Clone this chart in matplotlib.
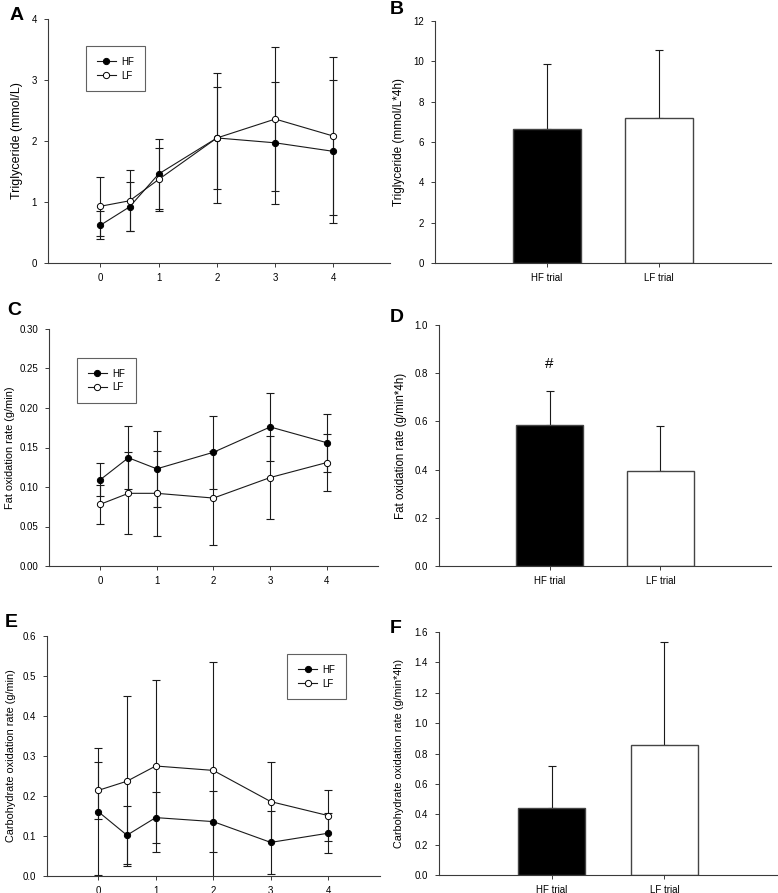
import matplotlib
matplotlib.use("Agg")
import matplotlib.pyplot as plt
import numpy as np

plt.rcParams["font.family"] = ["Liberation Sans", "DejaVu Sans"]

# time points (h)
times = [0, 0.5, 1, 2, 3, 4]
time_ticks = [0, 1, 2, 3, 4]

# A: triglyceride (mmol/L)
tg_hf = [0.62, 0.92, 1.46, 2.05, 1.97, 1.83]
tg_hf_sd = [0.23, 0.40, 0.57, 1.06, 1.00, 1.17]
tg_lf = [0.93, 1.02, 1.37, 2.05, 2.36, 2.08]
tg_lf_sd = [0.48, 0.50, 0.52, 0.84, 1.18, 1.30]

# C: fat oxidation rate (g/min)
fat_hf = [0.109, 0.137, 0.123, 0.144, 0.176, 0.156]
fat_hf_sd = [0.021, 0.040, 0.048, 0.046, 0.043, 0.037]
fat_lf = [0.078, 0.092, 0.092, 0.086, 0.112, 0.131]
fat_lf_sd = [0.025, 0.052, 0.054, 0.060, 0.053, 0.036]

# E: carbohydrate oxidation rate (g/min)
cho_hf = [0.161, 0.102, 0.146, 0.136, 0.084, 0.107]
cho_hf_sd = [0.158, 0.073, 0.063, 0.077, 0.078, 0.050]
cho_lf = [0.214, 0.237, 0.275, 0.264, 0.186, 0.151]
cho_lf_sd = [0.071, 0.213, 0.216, 0.272, 0.099, 0.064]

# B, D, F: area under curve
trials = ["HF trial", "LF trial"]
tg_auc = [6.65, 7.20]
tg_auc_sd = [3.20, 3.38]
fat_auc = [0.584, 0.395]
fat_auc_sd = [0.144, 0.184]
cho_auc = [0.438, 0.857]
cho_auc_sd = [0.277, 0.679]

W, H = 778, 893
spine_col = "#3a3a3a"
line_col = "#1a1a1a"


def px_axes(fig, left, top, right, bottom):
    ax = fig.add_axes([left / W, 1 - bottom / H, (right - left) / W, (bottom - top) / H])
    ax.px_box = (left, right)
    return ax


def style_axes(ax):
    for s in ["top", "right"]:
        ax.spines[s].set_visible(False)
    for s in ["left", "bottom"]:
        ax.spines[s].set_color(spine_col)
        ax.spines[s].set_linewidth(0.8)
    ax.tick_params(axis="both", direction="out", length=3, width=0.7,
                   color=spine_col, labelsize=7)
    ax.tick_params(axis="x", pad=4)
    ax.tick_params(axis="y", pad=5)


def put_ylabel(ax, text, x_px, size):
    left, right = ax.px_box
    ax.set_ylabel(text, fontsize=size)
    ax.yaxis.label.set_verticalalignment("center")
    ax.yaxis.set_label_coords((x_px - left) / (right - left), 0.5)


def line_panel(ax, hf, hf_sd, lf, lf_sd, ylim, yticks, fmt, ylabel, lab_x, lab_size,
               xlim, leg_xy):
    style_axes(ax)
    eb = dict(fmt="none", ecolor=line_col, elinewidth=0.8, capsize=3, capthick=0.8)
    ax.errorbar(times, hf, yerr=hf_sd, zorder=2, **eb)
    ax.errorbar(times, lf, yerr=lf_sd, zorder=2, **eb)
    ax.plot(times, hf, "-o", color=line_col, lw=0.8, ms=4.5, mfc="black",
            mec="black", mew=0.7, label="HF", zorder=3)
    ax.plot(times, lf, "-o", color=line_col, lw=0.8, ms=4.5, mfc="white",
            mec="black", mew=0.7, label="LF", zorder=3)
    ax.set_xlim(*xlim)
    ax.set_ylim(*ylim)
    ax.set_xticks(time_ticks)
    ax.set_yticks(yticks)
    ax.set_yticklabels([fmt.format(v) for v in yticks])
    put_ylabel(ax, ylabel, lab_x, lab_size)
    leg = ax.legend(loc="upper left", bbox_to_anchor=leg_xy, borderaxespad=0,
                    fontsize=7, frameon=True, fancybox=False, handlelength=2.0,
                    handletextpad=0.5, borderpad=1.1, labelspacing=0.4)
    leg.get_frame().set_edgecolor(spine_col)
    leg.get_frame().set_linewidth(0.8)


def bar_panel(ax, vals, sds, ylim, yticks, fmt, ylabel, lab_x, lab_size):
    style_axes(ax)
    x = np.arange(1, len(vals) + 1)
    ax.bar(x, vals, width=0.6, color=["black", "white"], edgecolor="#444444",
           linewidth=1.0, zorder=2)
    ax.errorbar(x, vals, yerr=[np.zeros(len(sds)), sds], fmt="none", ecolor=line_col,
                elinewidth=0.8, capsize=3, capthick=0.8, zorder=1)
    ax.set_xlim(0, 3)
    ax.set_ylim(*ylim)
    ax.set_xticks(x)
    ax.set_xticklabels(trials)
    ax.set_yticks(yticks)
    ax.set_yticklabels([fmt.format(v) for v in yticks])
    put_ylabel(ax, ylabel, lab_x, lab_size)


fig = plt.figure(figsize=(W / 100, H / 100), dpi=100)

axA = px_axes(fig, 48, 19, 390, 263)
line_panel(axA, tg_hf, tg_hf_sd, tg_lf, tg_lf_sd, (0, 4), [0, 1, 2, 3, 4], "{:.0f}",
           "Triglyceride (mmol/L)", 17, 9, (-0.9, 4.97), (0.111, 0.889))

axB = px_axes(fig, 435, 21, 771, 263)
bar_panel(axB, tg_auc, tg_auc_sd, (0, 12), [0, 2, 4, 6, 8, 10, 12], "{:.0f}",
          "Triglyceride (mmol/L*4h)", 399, 8.5)

axC = px_axes(fig, 49, 329, 378, 566)
line_panel(axC, fat_hf, fat_hf_sd, fat_lf, fat_lf_sd, (0, 0.30),
           [0, 0.05, 0.10, 0.15, 0.20, 0.25, 0.30], "{:.2f}",
           "Fat oxidation rate (g/min)", 10, 7.9, (-0.9, 4.9), (0.085, 0.878))

axD = px_axes(fig, 439, 325, 771, 566)
bar_panel(axD, fat_auc, fat_auc_sd, (0, 1.0), [0, 0.2, 0.4, 0.6, 0.8, 1.0], "{:.1f}",
          "Fat oxidation rate (g/min*4h)", 401, 8.3)
axD.text(1, 0.81, "#", ha="center", va="bottom", fontsize=11)

axE = px_axes(fig, 47, 636, 380, 876)
line_panel(axE, cho_hf, cho_hf_sd, cho_lf, cho_lf_sd, (0, 0.6),
           [0, 0.1, 0.2, 0.3, 0.4, 0.5, 0.6], "{:.1f}",
           "Carbohydrate oxidation rate (g/min)", 11, 7.8, (-0.89, 4.9), (0.721, 0.925))

axF = px_axes(fig, 439, 632, 777, 875)
bar_panel(axF, cho_auc, cho_auc_sd, (0, 1.6), [0, 0.2, 0.4, 0.6, 0.8, 1.0, 1.2, 1.4, 1.6],
          "{:.1f}", "Carbohydrate oxidation rate (g/min*4h)", 399, 7.8)

for lab, xp, yp in [("A", 10, 20), ("B", 390, 14), ("C", 7, 315),
                    ("D", 390, 322), ("E", 5, 627), ("F", 390, 633)]:
    fig.text(xp / W, 1 - yp / H, lab, fontsize=14, fontweight="bold",
             ha="left", va="baseline")

fig.savefig("out.png", dpi=100)
